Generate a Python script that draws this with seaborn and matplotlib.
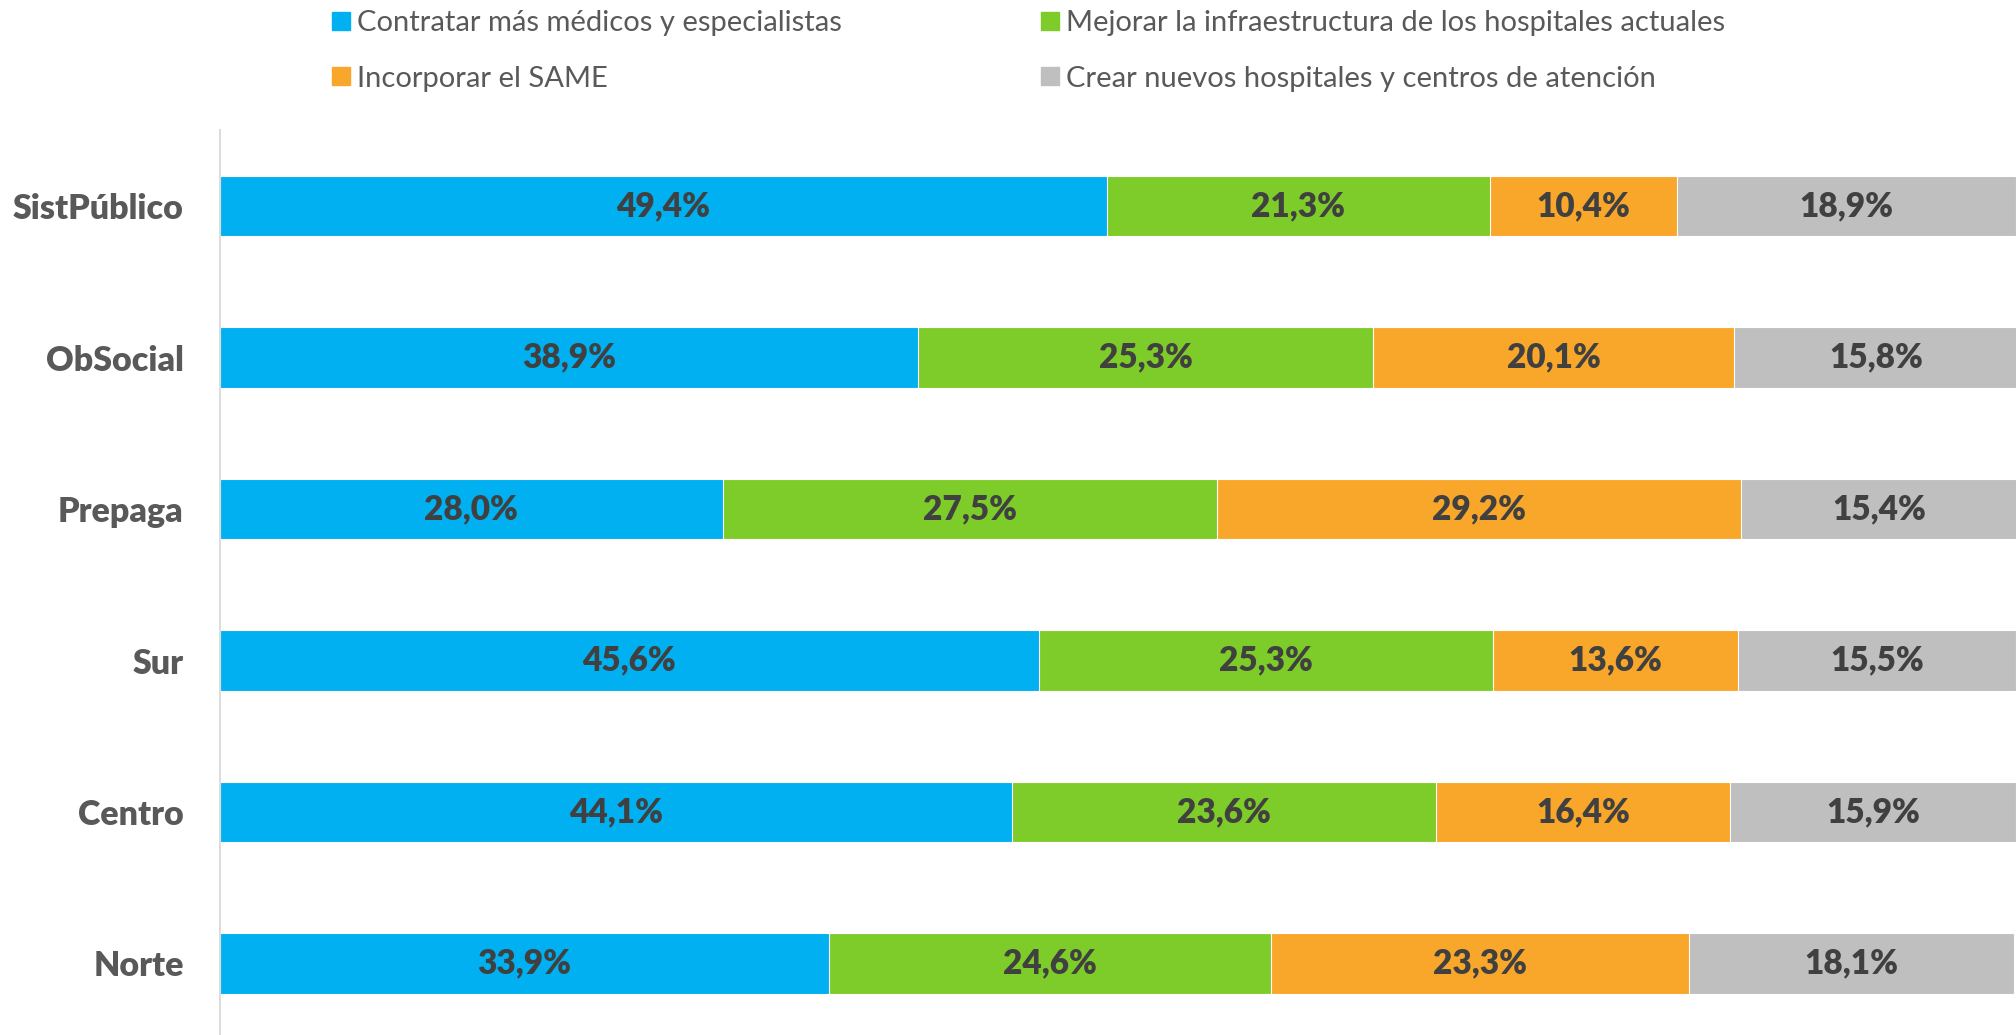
import numpy as np
import pandas as pd
import matplotlib
matplotlib.use("Agg")
import matplotlib.pyplot as plt
from matplotlib.patches import Patch
import seaborn as sns

# Groups (top to bottom) and the share of each proposal, in percent
groups = ["SistPúblico", "ObSocial", "Prepaga", "Sur", "Centro", "Norte"]
series = [
    "Contratar más médicos y especialistas",
    "Mejorar la infraestructura de los hospitales actuales",
    "Incorporar el SAME",
    "Crear nuevos hospitales y centros de atención",
]
contratar = [49.4, 38.9, 28.0, 45.6, 44.1, 33.9]
mejorar = [21.3, 25.3, 27.5, 25.3, 23.6, 24.6]
incorporar = [10.4, 20.1, 29.2, 13.6, 16.4, 23.3]
crear = [18.9, 15.8, 15.4, 15.5, 15.9, 18.1]

colors = ["#00B0F0", "#7ECC29", "#F9A72B", "#BFBFBF"]

sns.set_theme(style="white")
plt.rcParams["font.family"] = ["Lato", "DejaVu Sans"]

fig = plt.figure(figsize=(20.16, 10.35), dpi=100)
ax = fig.add_axes([0.109, -0.004, 0.891, 0.878])

values = np.array([contratar, mejorar, incorporar, crear])
cum = values.cumsum(axis=0)

# Stacked bars: draw cumulative totals from the widest down, each on top
for i in reversed(range(len(series))):
    df = pd.DataFrame({"grupo": groups, "total": cum[i]})
    sns.barplot(data=df, x="total", y="grupo", order=groups, orient="h",
                color=colors[i], saturation=1, width=0.40,
                edgecolor="white", linewidth=0.8, ax=ax)

# Value labels centred in each segment
for i in range(len(series)):
    for j, g in enumerate(groups):
        v = values[i, j]
        xc = cum[i, j] - v / 2
        ax.text(xc, j, f"{v:.1f}".replace(".", ",") + "%", ha="center",
                va="center", fontsize=24, fontweight="heavy", color="#404040")

ax.set_xlim(0, 100)
ax.set_ylim(5.5, -0.5)
ax.set_xlabel("")
ax.set_ylabel("")
ax.set_xticks([])
for s in ["top", "right", "bottom"]:
    ax.spines[s].set_visible(False)
ax.spines["left"].set_color("#D9D9D9")
ax.spines["left"].set_linewidth(1.3)
ax.tick_params(axis="y", length=0, pad=26, labelsize=24.5, labelcolor="#595959")
for lab in ax.get_yticklabels():
    lab.set_fontweight("heavy")

# Legend in two columns, rows read left to right
leg_kw = dict(loc="upper left", frameon=False, borderpad=0, borderaxespad=0,
              fontsize=21, handlelength=0.6, handleheight=0.6,
              handletextpad=0.25, labelspacing=1.0, labelcolor="#595959")
fig.legend([Patch(color=colors[0]), Patch(color=colors[2])],
           [series[0], series[2]], bbox_to_anchor=(0.1647, 0.990), **leg_kw)
fig.legend([Patch(color=colors[1]), Patch(color=colors[3])],
           [series[1], series[3]], bbox_to_anchor=(0.5164, 0.990), **leg_kw)

fig.savefig("out.png", dpi=100)
